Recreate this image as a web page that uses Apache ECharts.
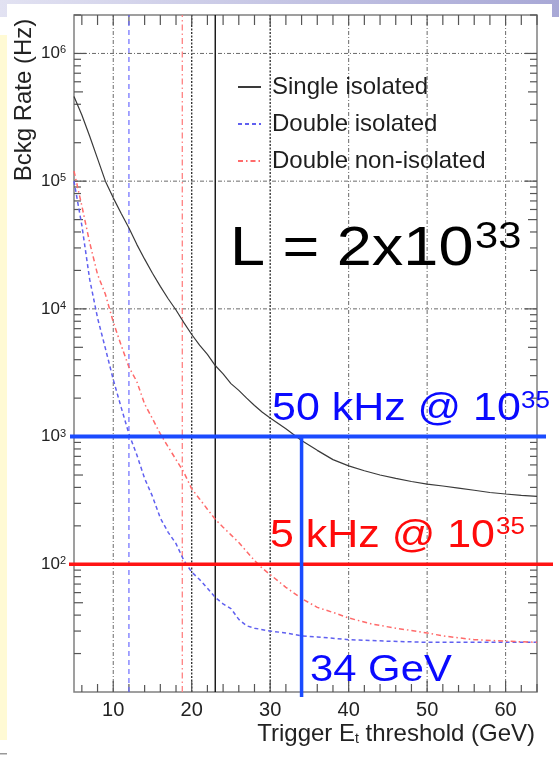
<!DOCTYPE html>
<html><head><meta charset="utf-8">
<script src="https://cdn.jsdelivr.net/npm/echarts@6/dist/echarts.min.js"></script>
<style>html,body{margin:0;padding:0;background:#fff;}#c{width:559px;height:757px;}</style>
</head><body><div id="c"></div>
<script>
// ---- data ----
const singleX = [5,6,7,8,9,10,11,12,13,14,15,16,17,18,19,20,21,22,23,24,25,26,27,28,29,30,32,34,36,38,40,42,44,46,48,50,52,54,56,58,60,62,64];
const singleRate = [4.6e5,3.3e5,2.25e5,1.5e5,1.0e5,7.4e4,5.6e4,4.3e4,3.2e4,2.45e4,1.9e4,1.5e4,1.2e4,9.8e3,7.8e3,6.3e3,5.2e3,4.4e3,3.6e3,3.1e3,2.6e3,2.3e3,2.0e3,1.75e3,1.55e3,1.4e3,1.15e3,930,780,660,590,540,500,470,445,425,410,395,380,365,355,347,340];
const isoX = [5,6,7,8,9,10,11,12,13,14,15,16,17,18,19,20,21,22,23,24,25,26,27,28,30,32,34,36,40,45,50,55,60,64];
const isoRate = [1.0e5,4.5e4,1.7e4,8.5e3,4.9e3,2.8e3,1.7e3,1.05e3,720,470,340,230,178,145,107,87,76,65,55,49,45,37,33,31.6,30,29,27.5,27,25.7,25,24.5,24.5,24.5,24.5];
const nonIsoX = [5,6,7,8,9,10,11,12,13,14,15,16,17,18,19,20,21,22,23,24,25,26,27,28,29,30,32,34,36,38,40,43,46,50,52,56,60,64];
const nonIsoRate = [1.2e5,6.4e4,3.3e4,1.86e4,1.3e4,7.9e3,5.2e3,3.5e3,2.7e3,1.8e3,1.38e3,1.05e3,830,660,525,390,325,270,225,195,170,148,126,107,93,83,66,54,46,42,38,34,31.6,29,27.5,25.7,25,24.5];
const seriesNames = ['Single isolated','Double isolated','Double non-isolated'];

const X_MIN = 5, X_MAX = 64, Y_MIN = 10, Y_MAX = 2e6;
const xTickLabels = [10,20,30,40,50,60];
const yDecades = [100,1000,10000,100000,1000000];
const refBlueX = 12, refRedX = 18.8, refBlackX = 23;
const rate50kHz = 1000, rate5kHz = 100, thresholdGeV = 34;

function pairs(xs, ys){ return xs.map((x,i)=>[x, ys[i]]); }

// minor tick values (axis decoration)
const xMinor = []; for (let v = 6; v <= X_MAX; v += 2) if (v % 10 !== 0) xMinor.push(v);
const yMinor = []; for (let d = 10; d <= Y_MAX; d *= 10) for (let k = 2; k <= 9; k++) if (d*k <= Y_MAX) yMinor.push(d*k);

const FONT = 'Liberation Sans, Arial, Helvetica, sans-serif';

function frameRender(params, api){
  const ch = [];
  const L = (a,b,style)=>ch.push({type:'line',shape:{x1:a[0],y1:a[1],x2:b[0],y2:b[1]},style:style});
  xTickLabels.forEach(v=>{
    const dark = (v===20 || v===30);
    L(api.coord([v,Y_MIN]), api.coord([v,Y_MAX]),
      {stroke: dark?'#2a2a2a':'#6a6a6a', lineWidth: dark?1.3:1, lineDash: dark?[2,1.5]:[4,2,1,2]});
  });
  yDecades.forEach(v=>{
    L(api.coord([X_MIN,v]), api.coord([X_MAX,v]), {stroke:'#6a6a6a', lineWidth:1, lineDash:[4,2,1,2]});
  });
  xMinor.concat(xTickLabels).forEach(v=>{
    const len = (v%10===0)?11:(v%4===2?7:8);
    const b = api.coord([v,Y_MIN]), t = api.coord([v,Y_MAX]);
    L(b,[b[0],b[1]-len],{stroke:'#555',lineWidth:1.2});
    L(t,[t[0],t[1]+10],{stroke:'#555',lineWidth:1.2});
  });
  yMinor.concat(yDecades).forEach(v=>{
    const major = yDecades.indexOf(v)>=0;
    const len = major?12:(String(v)[0]==='5'?9:7);
    const l = api.coord([X_MIN,v]), r = api.coord([X_MAX,v]);
    L(l,[l[0]+len,l[1]],{stroke:'#555',lineWidth:1.2});
    L(r,[r[0]-len,r[1]],{stroke:'#555',lineWidth:1.2});
  });
  return {type:'group',children:ch};
}

function refRender(params, api){
  const ch = [];
  const L = (a,b,style)=>ch.push({type:'line',shape:{x1:a[0],y1:a[1],x2:b[0],y2:b[1]},style:style});
  L(api.coord([refBlueX,Y_MIN]), api.coord([refBlueX,Y_MAX]), {stroke:'#6b6bff',lineWidth:1.2,lineDash:[5,4]});
  L(api.coord([refRedX,Y_MIN]), api.coord([refRedX,Y_MAX]), {stroke:'#ff8080',lineWidth:1.3,lineDash:[6,3,1.5,3]});
  L(api.coord([refBlackX,Y_MIN]), api.coord([refBlackX,Y_MAX]), {stroke:'#111',lineWidth:1.4});
  return {type:'group',children:ch};
}

function thresholdRender(params, api){
  const ch = [];
  const L = (a,b,style)=>ch.push({type:'line',shape:{x1:a[0],y1:a[1],x2:b[0],y2:b[1]},style:style});
  const b0 = api.coord([X_MIN,rate50kHz]), b1 = api.coord([X_MAX,rate50kHz]);
  L([b0[0]-4,b0[1]],[b1[0]+9,b1[1]],{stroke:'#1a4bff',lineWidth:4});
  const r0 = api.coord([X_MIN,rate5kHz]), r1 = api.coord([X_MAX,rate5kHz]);
  L([r0[0]-5,r0[1]],[r1[0]+16,r1[1]],{stroke:'#ff1414',lineWidth:3.5});
  const v0 = api.coord([thresholdGeV,rate50kHz]), v1 = api.coord([thresholdGeV,Y_MIN]);
  L(v0,[v1[0],v1[1]+5],{stroke:'#1a4bff',lineWidth:3.5});
  return {type:'group',children:ch};
}

function txt(x, y, s, size, color, sx){
  return {type:'text', x:x, y:y, z:10, scaleX:sx||1,
    style:{text:s, fontSize:size, fontFamily:FONT, fill:color, align:'left', verticalAlign:'top', lineHeight:size}};
}

const chart = echarts.init(document.getElementById('c'), null, {renderer:'canvas'});
chart.setOption({
  animation:false,
  backgroundColor:'transparent',
  grid:{left:74, right:22, top:15, bottom:65, show:true, borderColor:'#808080', borderWidth:1.5, backgroundColor:'transparent'},
  xAxis:{type:'value', min:X_MIN, max:X_MAX,
    axisLine:{show:false}, axisTick:{show:false}, splitLine:{show:false},
    axisLabel:{customValues:xTickLabels, fontSize:20, color:'#222', fontFamily:FONT, margin:8}},
  yAxis:{type:'log', logBase:10, min:Y_MIN, max:Y_MAX,
    axisLine:{show:false}, axisTick:{show:false}, splitLine:{show:false},
    axisLabel:{margin:8, formatter:function(v){
        const e = Math.round(Math.log10(v));
        if (e < 2 || Math.abs(v-Math.pow(10,e)) > 1e-6*v) return '';
        return '{m|10}{s|'+e+'}';
      },
      rich:{m:{fontSize:17, color:'#222', fontFamily:FONT}, s:{fontSize:11, color:'#222', fontFamily:FONT, verticalAlign:'top', padding:[0,0,6,0]}}}},
  legend:{orient:'vertical', left:237, top:74, padding:0, itemGap:11, itemWidth:23, itemHeight:14,
    itemStyle:{opacity:0},
    data:seriesNames, textStyle:{fontSize:24, color:'#1e1e1e', fontFamily:FONT, lineHeight:26, padding:[0,0,0,6]}},
  series:[
    {type:'custom', name:'frame', renderItem:frameRender, data:[[X_MIN,Y_MIN]], z:1, silent:true},
    {type:'custom', name:'refs', renderItem:refRender, data:[[X_MIN,Y_MIN]], z:2, silent:true},
    {type:'line', name:seriesNames[0], data:pairs(singleX,singleRate), symbol:'none', z:3,
      lineStyle:{color:'#3a3a3a', width:1.2}, itemStyle:{color:'#3a3a3a'}},
    {type:'line', name:seriesNames[1], data:pairs(isoX,isoRate), symbol:'none', z:3,
      lineStyle:{color:'#6060f0', width:1.5, type:[4,3]}, itemStyle:{color:'#6060f0'}},
    {type:'line', name:seriesNames[2], data:pairs(nonIsoX,nonIsoRate), symbol:'none', z:3,
      lineStyle:{color:'#ff6a6a', width:1.5, type:[5,3,1.5,3]}, itemStyle:{color:'#ff6a6a'}},
    {type:'custom', name:'thresholds', renderItem:thresholdRender, data:[[X_MIN,Y_MIN]], z:5, silent:true}
  ],
  graphic:[
    {type:'rect', z:-10, shape:{x:0,y:0,width:559,height:17},
      style:{fill:new echarts.graphic.LinearGradient(0,0,1,0,[{offset:0,color:'#e2e2f2'},{offset:1,color:'#a8a8d6'}])}},
    {type:'rect', z:-9, shape:{x:7,y:4,width:545,height:753}, style:{fill:'#ffffff'}},
    {type:'rect', z:-9, shape:{x:0,y:35,width:7,height:705}, style:{fill:'#fffad4'}},
    {type:'rect', z:-9, shape:{x:0,y:753,width:7,height:1.5}, style:{fill:'#999'}},
    {type:'text', x:24, y:100, rotation:Math.PI/2, z:10,
      style:{text:'Bckg Rate (Hz)', fontSize:24, fontFamily:FONT, fill:'#222', align:'center', verticalAlign:'middle'}},
    {type:'text', x:535, y:734, z:10,
      style:{text:'{a|Trigger E}{b|t}{a| threshold (GeV)}', align:'right', verticalAlign:'middle',
        rich:{a:{fontSize:24, fontFamily:FONT, fill:'#222'}, b:{fontSize:14, fontFamily:FONT, fill:'#222', verticalAlign:'bottom'}}}},
    txt(230, 222, 'L = 2x10', 56, '#000', 1.125),
    txt(475, 219, '33', 37, '#000', 1.125),
    txt(272, 391, '50 kHz @ 10', 38, '#0a0aff', 1.13),
    txt(521, 390, '35', 23, '#0a0aff', 1.13),
    txt(270, 518, '5 kHz @ 10', 38, '#ff0a0a', 1.13),
    txt(496, 516, '35', 23, '#ff0a0a', 1.13),
    txt(310, 652, '34 GeV', 37, '#0a0aff', 1.13)
  ]
});
</script></body></html>
